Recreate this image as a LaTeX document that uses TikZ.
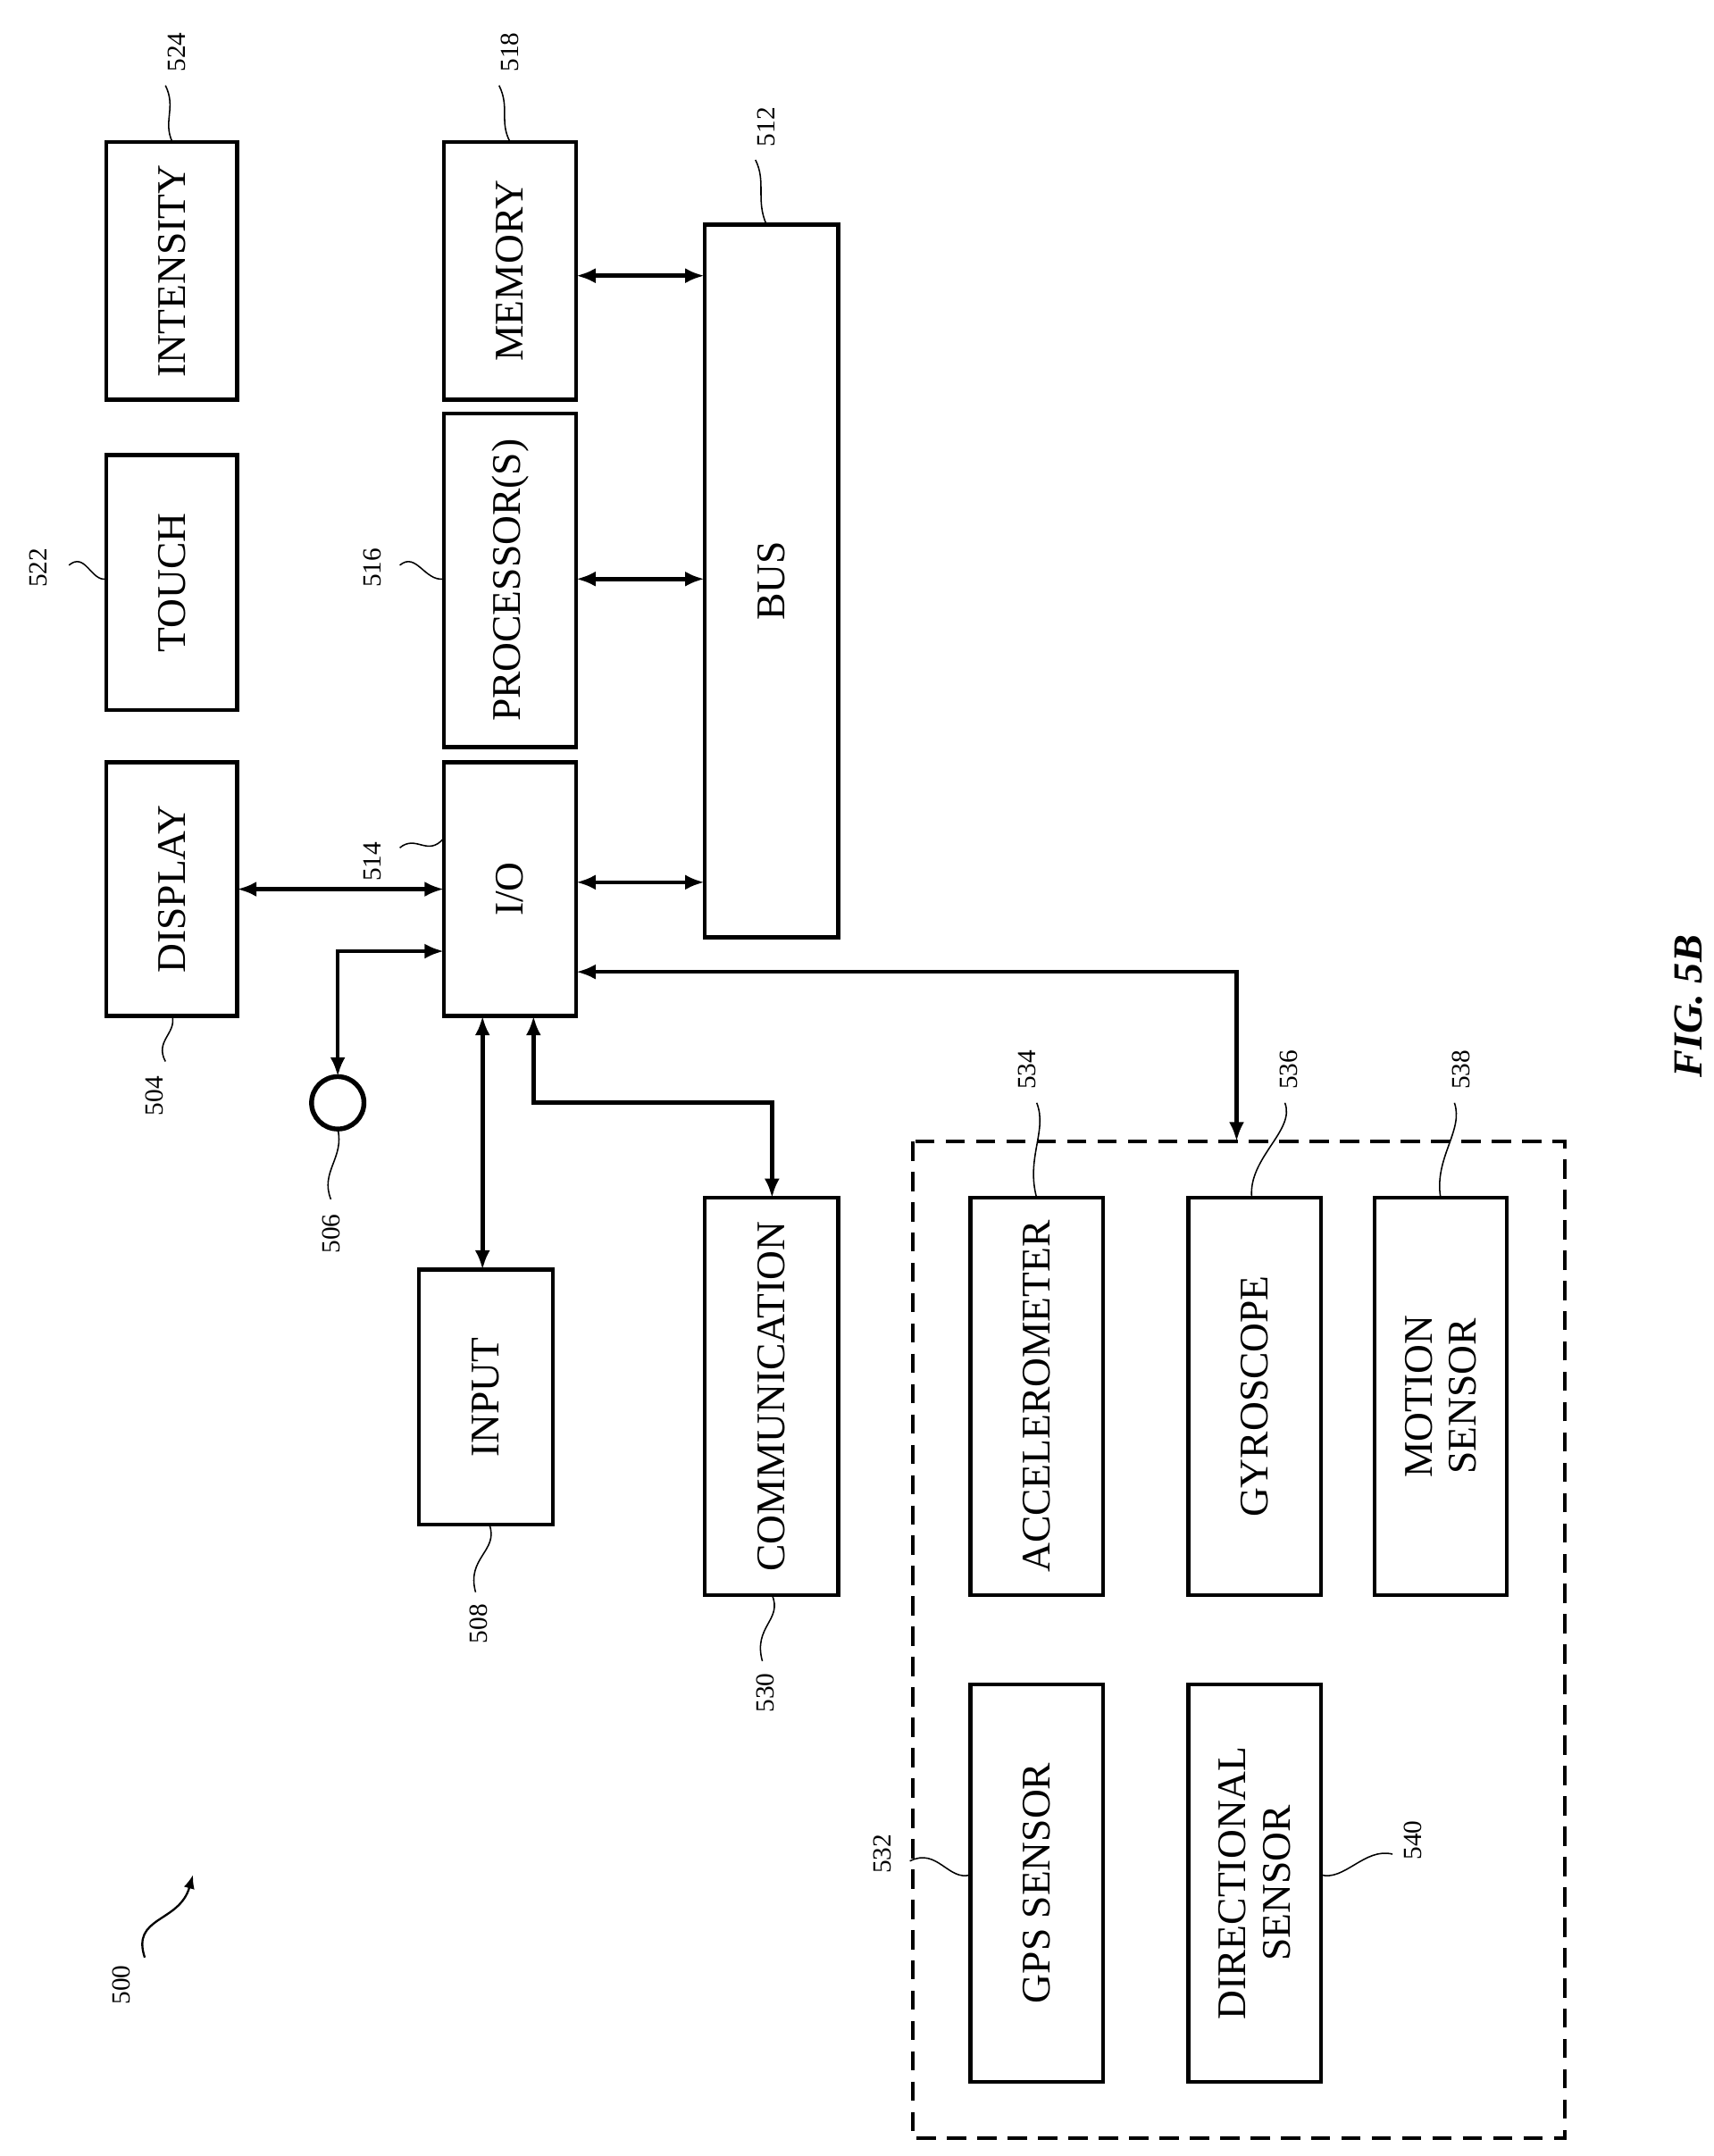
\documentclass[tikz,border=0pt]{standalone}
\usepackage{fontspec}
\setmainfont{Liberation Serif}
\usetikzlibrary{arrows.meta}
\begin{document}
\begin{tikzpicture}[x=1pt,y=-1pt,
  box/.style={draw,line width=2.8pt},
  lab/.style={rotate=90,font=\fontsize{29.5}{32}\selectfont,align=center},
  num/.style={rotate=90,font=\fontsize{19}{21}\selectfont},
  con/.style={line width=3pt,{Latex[length=14pt,width=11pt]}-{Latex[length=14pt,width=11pt]}},
  lead/.style={line width=1pt}]
\useasboundingbox (0,0) rectangle (1243,1564);
\draw[box] (77,103) rectangle (172,290) node[lab,midway] (int) {INTENSITY};
\draw[box] (77,330) rectangle (172,515) node[lab,midway] (tou) {TOUCH};
\draw[box] (77,553) rectangle (172,737) node[lab,midway] (dis) {DISPLAY};
\draw[box] (322,103) rectangle (418,290) node[lab,midway] (mem) {MEMORY};
\draw[box] (322,300) rectangle (418,542) node[lab,midway] (pro) {PROCESSOR(S)};
\draw[box] (322,553) rectangle (418,737) node[lab,midway] (io) {I/O};
\draw[box] (511,163) rectangle (608,680) node[lab,midway] (bus) {BUS};
\draw[box] (304,921) rectangle (401,1106) node[lab,midway] (inp) {INPUT};
\draw[box] (511,869) rectangle (608,1157) node[lab,midway] (com) {COMMUNICATION};
\draw[line width=2.5pt,dash pattern=on 14pt off 8pt] (662,828) rectangle (1135,1551);
\draw[box] (704,869) rectangle (800,1157) node[lab,midway] (acc) {ACCELEROMETER};
\draw[box] (862,869) rectangle (958,1157) node[lab,midway] (gyr) {GYROSCOPE};
\draw[box] (997,869) rectangle (1093,1157) node[lab,midway] (mot) {MOTION\\SENSOR};
\draw[box] (704,1222) rectangle (800,1510) node[lab,midway] (gps) {GPS SENSOR};
\draw[box] (862,1222) rectangle (958,1510) node[lab,midway] (dir) {DIRECTIONAL\\SENSOR};
\draw[line width=3.5pt] (245,800) circle (19) coordinate (mic);
\draw[con] (418,200) -- (511,200);
\draw[con] (418,420) -- (511,420);
\draw[con] (418,640) -- (511,640);
\draw[con] (172,645) -- (322,645);
\draw[con] (322,690) -- (245,690) -- (245,781);
\draw[con] (350,737) -- (350,921);
\draw[con] (387,737) -- (387,800) -- (560,800) -- (560,869);
\draw[con] (418,705) -- (897,705) -- (897,828);
\node[num] at (128,38) {524}; \draw[lead] (120,62) .. controls (128,78) and (118,88) .. (125,103);
\node[num] at (370,38) {518}; \draw[lead] (362,62) .. controls (370,78) and (362,88) .. (370,103);
\node[num] at (556,92) {512}; \draw[lead] (548,116) .. controls (556,132) and (548,145) .. (556,163);
\node[num] at (28,412) {522}; \draw[lead] (50,410) .. controls (62,400) and (66,422) .. (77,420);
\node[num] at (270,412) {516}; \draw[lead] (290,410) .. controls (302,400) and (308,422) .. (322,420);
\node[num] at (270,625) {514}; \draw[lead] (290,615) .. controls (302,605) and (310,622) .. (322,608);
\node[num] at (112,795) {504}; \draw[lead] (120,770) .. controls (112,755) and (128,750) .. (125,737);
\node[num] at (240,895) {506}; \draw[lead] (240,870) .. controls (232,850) and (250,840) .. (245,819);
\node[num] at (347,1178) {508}; \draw[lead] (345,1155) .. controls (338,1130) and (362,1125) .. (355,1106);
\node[num] at (555,1228) {530}; \draw[lead] (553,1205) .. controls (546,1180) and (568,1175) .. (560,1157);
\node[num] at (745,776) {534}; \draw[lead] (752,800) .. controls (760,820) and (744,840) .. (752,869);
\node[num] at (935,776) {536}; \draw[lead] (932,800) .. controls (940,820) and (905,840) .. (908,869);
\node[num] at (1060,776) {538}; \draw[lead] (1055,800) .. controls (1062,820) and (1040,840) .. (1045,869);
\node[num] at (640,1345) {532}; \draw[lead] (660,1350) .. controls (680,1340) and (688,1365) .. (704,1360);
\node[num] at (1025,1335) {540}; \draw[lead] (1010,1345) .. controls (990,1340) and (975,1365) .. (958,1360);
\node[num] at (88,1440) {500};
\draw[lead,line width=1.5pt,-{Latex[length=10pt,width=8pt]}] (105,1420) .. controls (95,1390) and (130,1395) .. (140,1360);
\node[rotate=90,font=\fontsize{30}{32}\selectfont\bfseries\itshape] at (1225,730) {FIG. 5B};
\end{tikzpicture}
\end{document}
